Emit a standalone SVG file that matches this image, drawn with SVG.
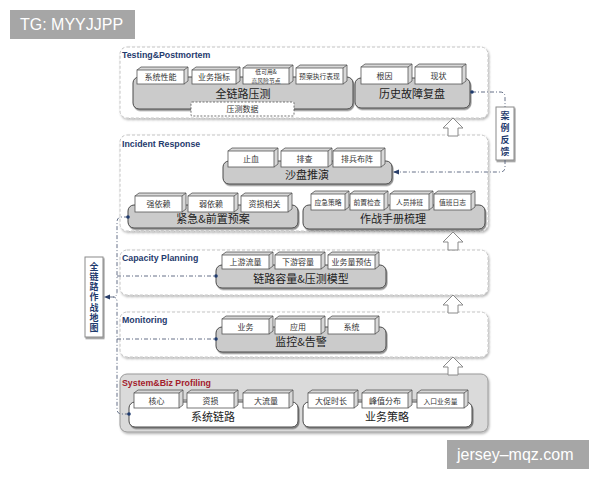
<svg xmlns="http://www.w3.org/2000/svg" width="600" height="480" viewBox="0 0 600 480">
<defs>
<filter id="sh" x="-10%" y="-20%" width="130%" height="150%"><feDropShadow dx="1" dy="1.5" stdDeviation="0.7" flood-color="#000" flood-opacity="0.45"/></filter>
<filter id="lsh" x="-5%" y="-5%" width="110%" height="115%"><feDropShadow dx="1" dy="1.5" stdDeviation="0.8" flood-color="#000" flood-opacity="0.3"/></filter>
<marker id="ah" viewBox="0 0 6 6" refX="5" refY="3" markerWidth="6" markerHeight="6" orient="auto-start-reverse" markerUnits="userSpaceOnUse"><path d="M0,0.5 L6,3 L0,5.5 z" fill="#2a3f6a"/></marker>
</defs>
<style>
.layer{fill:#fff;stroke:#c4c4c4;stroke-width:1;stroke-dasharray:3 2;filter:url(#lsh)}
.layer5{fill:#dadada;stroke:#9a9a9a;stroke-width:1;filter:url(#lsh)}
.ttl{font-family:"Liberation Sans",Arial,sans-serif;font-weight:bold;font-size:8.8px;fill:#1f3b6e}
.ttlr{font-family:"Liberation Sans",Arial,sans-serif;font-weight:bold;font-size:8.8px;fill:#a3202c}
.grp{fill:#cbcbcb;stroke:#4a4a4a;stroke-width:1;filter:url(#sh)}
.grpw{fill:#fff;stroke:#4a4a4a;stroke-width:1;filter:url(#sh)}
.gt{font-family:"Noto Sans CJK SC","Liberation Sans",sans-serif;font-size:11px;fill:#222;text-anchor:middle}
.bx rect{fill:#fff;stroke:#555;stroke-width:0.8}
.bx path{fill:#d8d8d8;stroke:#555;stroke-width:0.8}
.bt{font-family:"Noto Sans CJK SC","Liberation Sans",sans-serif;font-size:8px;fill:#333;text-anchor:middle}
.bts{font-family:"Noto Sans CJK SC","Liberation Sans",sans-serif;font-size:6.8px;fill:#333;text-anchor:middle}
.bxs{font-family:"Noto Sans CJK SC","Liberation Sans",sans-serif;font-size:5.8px;fill:#333;text-anchor:middle}
.up{fill:#fff;stroke:#8a8a8a;stroke-width:1}
.con{fill:none;stroke:#55617a;stroke-width:0.9;stroke-dasharray:4 2 1 2}
.dot{fill:#1f3b6e}
.vb{fill:#fff;stroke:#8a8a8a;stroke-width:1;filter:url(#sh)}
.vt{font-family:"Noto Sans CJK SC","Liberation Sans",sans-serif;font-size:9px;font-weight:bold;fill:#1f3b6e;text-anchor:middle;writing-mode:vertical-rl}
.wm{fill:#a6a6a6}
.wmt{font-family:"Liberation Sans",Arial,sans-serif;font-size:16px;fill:#fff}
</style>

<!-- watermarks -->
<rect class="wm" x="10" y="10" width="125" height="29"/>
<text class="wmt" x="20" y="30">TG: MYYJJPP</text>
<rect class="wm" x="447" y="440" width="142" height="29"/>
<text class="wmt" x="457" y="460">jersey–mqz.com</text>

<!-- layers -->
<g id="layer-testing">
<rect class="layer" x="120" y="47" width="368" height="71" rx="7"/>
<text class="ttl" x="122" y="58">Testing&amp;Postmortem</text>
</g>
<g id="layer-incident">
<rect class="layer" x="120" y="135" width="368" height="96" rx="7"/>
<text class="ttl" x="122" y="147">Incident Response</text>
</g>
<g id="layer-capacity">
<rect class="layer" x="120" y="250" width="368" height="45" rx="7"/>
<text class="ttl" x="122" y="261">Capacity Planning</text>
</g>
<g id="layer-monitoring">
<rect class="layer" x="120" y="312" width="368" height="45" rx="7"/>
<text class="ttl" x="122" y="323">Monitoring</text>
</g>
<g id="layer-profiling">
<rect class="layer5" x="120" y="374" width="368" height="58" rx="7"/>
<text class="ttlr" x="122" y="386">System&amp;Biz Profiling</text>
</g>

<!-- up arrows -->
<g id="arrows">
<path class="up" d="M453,118 L463,128 L458,128 L458,136 L448,136 L448,128 L443,128 Z"/>
<path class="up" d="M453,232 L463,242 L458,242 L458,250 L448,250 L448,242 L443,242 Z"/>
<path class="up" d="M453,295 L463,305 L458,305 L458,313 L448,313 L448,305 L443,305 Z"/>
<path class="up" d="M453,357 L463,367 L458,367 L458,375 L448,375 L448,367 L443,367 Z"/>
</g>

<!-- Testing & Postmortem -->
<g id="g-quanlian">
<rect class="grp" x="133" y="77" width="220" height="32" rx="6"/>
<text class="gt" x="243" y="98">全链路压测</text>
<g class="bx"><path d="M137,70 l4,-3 h47 v14 l-4,3 M184,70 l4,-3"/><rect x="137" y="70" width="47" height="14"/></g>
<text class="bt" x="160.5" y="80">系统性能</text>
<g class="bx"><path d="M192,70 l4,-3 h44 v14 l-4,3 M236,70 l4,-3"/><rect x="192" y="70" width="44" height="14"/></g>
<text class="bt" x="214" y="80">业务指标</text>
<g class="bx"><path d="M243,68 l4,-3 h46 v16 l-4,3 M289,68 l4,-3"/><rect x="243" y="68" width="46" height="16"/></g>
<text class="bxs" x="266" y="74.2">低可用&amp;</text>
<text class="bxs" x="266" y="82.8">高风险节点</text>
<g class="bx"><path d="M296,68 l4,-3 h47 v16 l-4,3 M343,68 l4,-3"/><rect x="296" y="68" width="47" height="16"/></g>
<text class="bts" x="319.5" y="78.5">预案执行表现</text>
</g>
<g id="g-yacedata">
<rect x="191" y="102" width="103" height="14" fill="#fff" stroke="#666" stroke-width="0.9" stroke-dasharray="2 1.5" rx="1"/>
<text class="bt" x="242.5" y="112">压测数据</text>
</g>
<g id="g-lishi">
<rect class="grp" x="355" y="78" width="115" height="30" rx="6"/>
<text class="gt" x="412" y="98">历史故障复盘</text>
<g class="bx"><path d="M361,67 l4,-3 h47 v17 l-4,3 M408,67 l4,-3"/><rect x="361" y="67" width="47" height="17"/></g>
<text class="bt" x="384.5" y="78.5">根因</text>
<g class="bx"><path d="M415,67 l4,-3 h47 v17 l-4,3 M462,67 l4,-3"/><rect x="415" y="67" width="47" height="17"/></g>
<text class="bt" x="438.5" y="78.5">现状</text>
</g>

<!-- Incident Response -->
<g id="g-shapan">
<rect class="grp" x="223" y="161" width="169" height="23" rx="6"/>
<text class="gt" x="307" y="179">沙盘推演</text>
<g class="bx"><path d="M228,151 l4,-3 h46 v16 l-4,3 M274,151 l4,-3"/><rect x="228" y="151" width="46" height="16"/></g>
<text class="bt" x="251" y="162">止血</text>
<g class="bx"><path d="M281,151 l4,-3 h47 v16 l-4,3 M328,151 l4,-3"/><rect x="281" y="151" width="47" height="16"/></g>
<text class="bt" x="304.5" y="162">排查</text>
<g class="bx"><path d="M333,151 l4,-3 h48 v16 l-4,3 M381,151 l4,-3"/><rect x="333" y="151" width="48" height="16"/></g>
<text class="bt" x="357" y="162">排兵布阵</text>
</g>
<g id="g-jinji">
<rect class="grp" x="128" y="205" width="170" height="23" rx="6"/>
<text class="gt" x="213" y="223">紧急&amp;前置预案</text>
<g class="bx"><path d="M135,196 l4,-3 h47 v16 l-4,3 M182,196 l4,-3"/><rect x="135" y="196" width="47" height="16"/></g>
<text class="bt" x="158.5" y="207">强依赖</text>
<g class="bx"><path d="M188,196 l4,-3 h46 v16 l-4,3 M234,196 l4,-3"/><rect x="188" y="196" width="46" height="16"/></g>
<text class="bt" x="211" y="207">弱依赖</text>
<g class="bx"><path d="M241,196 l4,-3 h47 v16 l-4,3 M288,196 l4,-3"/><rect x="241" y="196" width="47" height="16"/></g>
<text class="bt" x="264.5" y="207">资损相关</text>
</g>
<g id="g-zuozhan">
<rect class="grp" x="303" y="205" width="182" height="24" rx="6"/>
<text class="gt" x="393" y="223">作战手册梳理</text>
<g class="bx"><path d="M311,194 l4,-3 h34 v16 l-4,3 M345,194 l4,-3"/><rect x="311" y="194" width="34" height="16"/></g>
<text class="bts" x="328" y="204.5">应急策略</text>
<g class="bx"><path d="M350,194 l4,-3 h34 v16 l-4,3 M384,194 l4,-3"/><rect x="350" y="194" width="34" height="16"/></g>
<text class="bts" x="367" y="204.5">前置检查</text>
<g class="bx"><path d="M390,194 l4,-3 h39 v16 l-4,3 M429,194 l4,-3"/><rect x="390" y="194" width="39" height="16"/></g>
<text class="bts" x="409.5" y="204.5">人员排班</text>
<g class="bx"><path d="M434,194 l4,-3 h37 v16 l-4,3 M471,194 l4,-3"/><rect x="434" y="194" width="37" height="16"/></g>
<text class="bts" x="452.5" y="204.5">值班日志</text>
</g>

<!-- Capacity Planning -->
<g id="g-capacity">
<rect class="grp" x="216" y="265" width="170" height="23" rx="6"/>
<text class="gt" x="301" y="283">链路容量&amp;压测模型</text>
<g class="bx"><path d="M222,255 l4,-3 h47 v14 l-4,3 M269,255 l4,-3"/><rect x="222" y="255" width="47" height="14"/></g>
<text class="bt" x="245.5" y="265">上游流量</text>
<g class="bx"><path d="M275,255 l4,-3 h46 v14 l-4,3 M321,255 l4,-3"/><rect x="275" y="255" width="46" height="14"/></g>
<text class="bt" x="298" y="265">下游容量</text>
<g class="bx"><path d="M328,255 l4,-3 h47 v14 l-4,3 M375,255 l4,-3"/><rect x="328" y="255" width="47" height="14"/></g>
<text class="bt" x="351.5" y="265">业务量预估</text>
</g>

<!-- Monitoring -->
<g id="g-monitor">
<rect class="grp" x="216" y="327" width="170" height="25" rx="6"/>
<text class="gt" x="301" y="346">监控&amp;告警</text>
<g class="bx"><path d="M222,319 l4,-3 h47 v15 l-4,3 M269,319 l4,-3"/><rect x="222" y="319" width="47" height="15"/></g>
<text class="bt" x="245.5" y="329.5">业务</text>
<g class="bx"><path d="M275,319 l4,-3 h46 v15 l-4,3 M321,319 l4,-3"/><rect x="275" y="319" width="46" height="15"/></g>
<text class="bt" x="298" y="329.5">应用</text>
<g class="bx"><path d="M328,319 l4,-3 h47 v15 l-4,3 M375,319 l4,-3"/><rect x="328" y="319" width="47" height="15"/></g>
<text class="bt" x="351.5" y="329.5">系统</text>
</g>

<!-- Profiling -->
<g id="g-xitong">
<rect class="grpw" x="129" y="402" width="169" height="25" rx="6"/>
<text class="gt" x="213" y="421">系统链路</text>
<path d="M179,400 H188 M234,400 H243" stroke="#555" stroke-width="0.8"/>
<g class="bx"><path d="M134,393 l4,-3 h45 v15 l-4,3 M179,393 l4,-3"/><rect x="134" y="393" width="45" height="15"/></g>
<text class="bt" x="156.5" y="403.5">核心</text>
<g class="bx"><path d="M187,393 l4,-3 h47 v15 l-4,3 M234,393 l4,-3"/><rect x="187" y="393" width="47" height="15"/></g>
<text class="bt" x="210.5" y="403.5">资损</text>
<g class="bx"><path d="M243,393 l4,-3 h46 v15 l-4,3 M289,393 l4,-3"/><rect x="243" y="393" width="46" height="15"/></g>
<text class="bt" x="266" y="403.5">大流量</text>
</g>
<g id="g-yewu">
<rect class="grpw" x="303" y="402" width="169" height="25" rx="6"/>
<text class="gt" x="387" y="421">业务策略</text>
<path d="M354,400 H362 M408,400 H417" stroke="#555" stroke-width="0.8"/>
<g class="bx"><path d="M308,393 l4,-3 h46 v15 l-4,3 M354,393 l4,-3"/><rect x="308" y="393" width="46" height="15"/></g>
<text class="bt" x="331" y="403.5">大促时长</text>
<g class="bx"><path d="M362,393 l4,-3 h46 v15 l-4,3 M408,393 l4,-3"/><rect x="362" y="393" width="46" height="15"/></g>
<text class="bt" x="385" y="403.5">峰值分布</text>
<g class="bx"><path d="M417,393 l4,-3 h47 v15 l-4,3 M464,393 l4,-3"/><rect x="417" y="393" width="47" height="15"/></g>
<text class="bts" x="440.5" y="403.5">入口业务量</text>
</g>

<!-- side boxes -->
<g id="map">
<rect class="vb" x="85" y="257" width="18" height="80"/>
<text class="vt" x="94" y="297.6" letter-spacing="1.2">全链路作战地图</text>
</g>
<g id="feedback">
<rect class="vb" x="496" y="107" width="18" height="53"/>
<text class="vt" x="505" y="135.2" letter-spacing="3.3">案例反馈</text>
</g>

<!-- connectors -->
<g id="connectors">
<path class="con" d="M472,92 H500 Q505,92 505,97 V107"/>
<path class="con" d="M505,160 V167 Q505,172 500,172 H394" marker-end="url(#ah)"/>
<circle class="dot" cx="472" cy="92" r="1.8"/>
<path class="con" d="M128,217 H122 Q117,217 117,222 V292 Q117,297 113,297 Q117,297 117,302 V409 Q117,414 122,414 H129"/>
<path class="con" d="M113,297 H105" marker-end="url(#ah)"/>
<path class="con" d="M117,276 H216"/>
<path class="con" d="M117,339 H216"/>
<circle class="dot" cx="128" cy="217" r="1.8"/>
<circle class="dot" cx="216" cy="276" r="1.8"/>
<circle class="dot" cx="216" cy="339" r="1.8"/>
<circle class="dot" cx="129" cy="414" r="1.8"/>
</g>
</svg>
